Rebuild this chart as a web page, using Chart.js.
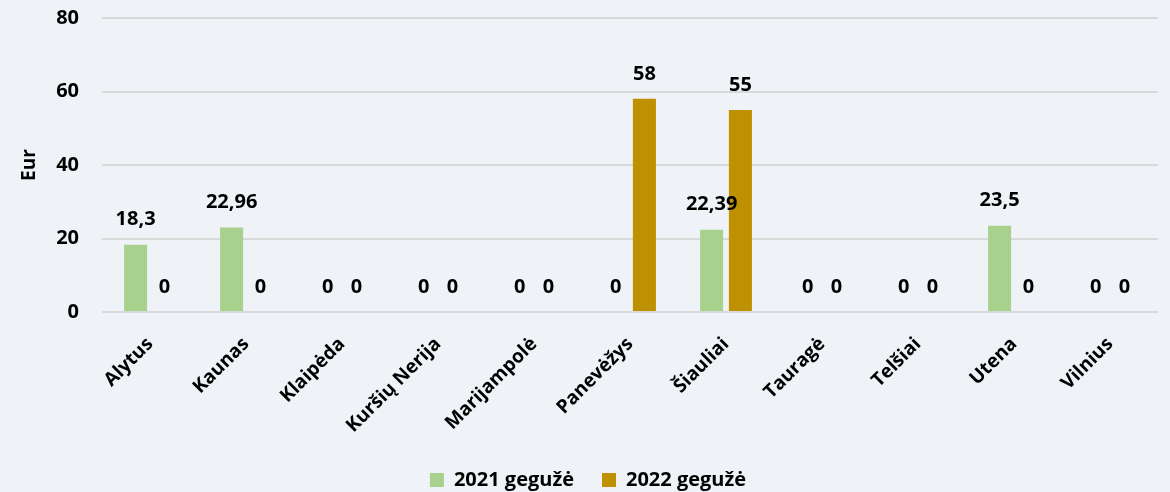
<!DOCTYPE html>
<html>
<head>
<meta charset="utf-8">
<script src="https://cdn.jsdelivr.net/npm/chart.js@4"></script>
<style>
  html, body { margin: 0; padding: 0; background: #eff3f7; }
  #wrap { width: 1170px; height: 492px; }
</style>
</head>
<body>
<div id="wrap"><canvas id="chart"></canvas></div>
<script>
const regions = ['Alytus', 'Kaunas', 'Klaipėda', 'Kuršių Nerija', 'Marijampolė', 'Panevėžys', 'Šiauliai', 'Tauragė', 'Telšiai', 'Utena', 'Vilnius'];
const may2021 = [18.3, 22.96, 0, 0, 0, 0, 22.39, 0, 0, 23.5, 0];
const may2022 = [0, 0, 0, 0, 0, 58, 55, 0, 0, 0, 0];
const seriesNames = ['2021 gegužė', '2022 gegužė'];
const yTicks = [0, 20, 40, 60, 80];

const FONT = '"Open Sans", sans-serif';

// values written with a decimal comma, as in the source
const fmt = v => String(v).replace('.', ',');

const valueLabels = {
  id: 'valueLabels',
  afterDatasetsDraw(chart) {
    const ctx = chart.ctx;
    ctx.save();
    ctx.font = 'bold 20px ' + FONT;
    ctx.fillStyle = '#000';
    ctx.textAlign = 'center';
    ctx.textBaseline = 'middle';
    chart.data.datasets.forEach((ds, i) => {
      chart.getDatasetMeta(i).data.forEach((bar, j) => {
        ctx.fillText(fmt(ds.data[j]), bar.x, bar.y - 25);
      });
    });
    ctx.restore();
  }
};

new Chart(document.getElementById('chart'), {
  type: 'bar',
  data: {
    labels: regions,
    datasets: [
      { label: seriesNames[0], data: may2021, backgroundColor: '#a9d18e' },
      { label: seriesNames[1], data: may2022, backgroundColor: '#bf9000' }
    ]
  },
  options: {
    responsive: true,
    maintainAspectRatio: false,
    animation: false,
    devicePixelRatio: 1,
    layout: { padding: { top: 18, right: 12, left: 18, bottom: -8 } },
    datasets: { bar: { categoryPercentage: 0.6, barPercentage: 0.8 } },
    scales: {
      x: {
        grid: { display: false },
        border: { display: false },
        afterFit: s => { s.height = 130; s.paddingLeft = 0; s.paddingRight = 0; },
        ticks: {
          color: '#000',
          font: { family: FONT, size: 19, weight: 'bold' },
          minRotation: 45,
          maxRotation: 45,
          padding: 13
        }
      },
      y: {
        min: 0,
        max: 80,
        afterBuildTicks: axis => { axis.ticks = yTicks.map(v => ({ value: v })); },
        afterFit: s => { s.width = 84; s.paddingTop = 0; s.paddingBottom = 0; },
        grid: { color: '#d9d9d9', lineWidth: 2, drawTicks: false },
        border: { display: false },
        ticks: {
          color: '#000',
          font: { family: FONT, size: 20, weight: 'bold' },
          padding: 23
        },
        title: {
          display: true,
          text: 'Eur',
          color: '#000',
          font: { family: FONT, size: 19, weight: 'bold' },
          padding: { top: 0, bottom: 14 }
        }
      }
    },
    plugins: {
      legend: {
        position: 'bottom',
        labels: {
          color: '#000',
          font: { family: FONT, size: 20, weight: 'bold' },
          boxWidth: 14,
          boxHeight: 14,
          padding: 28
        }
      },
      tooltip: { enabled: false }
    }
  },
  plugins: [valueLabels]
});
</script>
</body>
</html>
